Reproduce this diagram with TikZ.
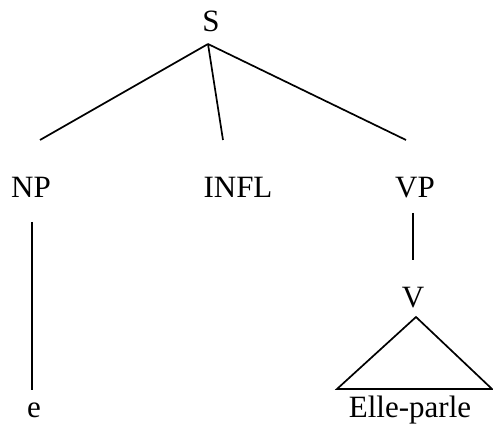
\documentclass[tikz,border=0pt]{standalone}
\usepackage{fontspec}
\setmainfont{Liberation Serif}
\begin{document}
\begin{tikzpicture}[x=1pt,y=-1pt,
  lbl/.style={anchor=base,inner sep=0pt,font=\fontsize{31}{37}\selectfont},
  edge/.style={line width=1.7pt}]
\useasboundingbox (0,0) rectangle (493,427);
% labels
\node[lbl] (S) at (211,32) {S};
\node[lbl] (NP) at (31,198) {NP};
\node[lbl] (INFL) at (238,198) {INFL};
\node[lbl] (VP) at (415,198) {VP};
\node[lbl] (V) at (413,308) {V};
\node[lbl] (e) at (34,418) {e};
\node[lbl] (EP) at (410,418) {Elle-parle};
% connector end points
\coordinate (s-b) at (208,44);
\coordinate (np-t) at (40,140);
\coordinate (infl-t) at (223,140);
\coordinate (vp-t) at (406,140);
\coordinate (np-b) at (32,222);
\coordinate (e-t) at (32,390);
\coordinate (vp-b) at (413,213);
\coordinate (v-t) at (413,260);
\coordinate (tri-top) at (416,317);
\coordinate (tri-l) at (337,389);
\coordinate (tri-r) at (492,389);
% connectors
\draw[edge] (s-b) -- (np-t);
\draw[edge] (s-b) -- (infl-t);
\draw[edge] (s-b) -- (vp-t);
\draw[edge] (np-b) -- (e-t);
\draw[edge] (vp-b) -- (v-t);
\draw[edge,line join=miter] (tri-l) -- (tri-top) -- (tri-r) -- cycle;
\end{tikzpicture}
\end{document}
